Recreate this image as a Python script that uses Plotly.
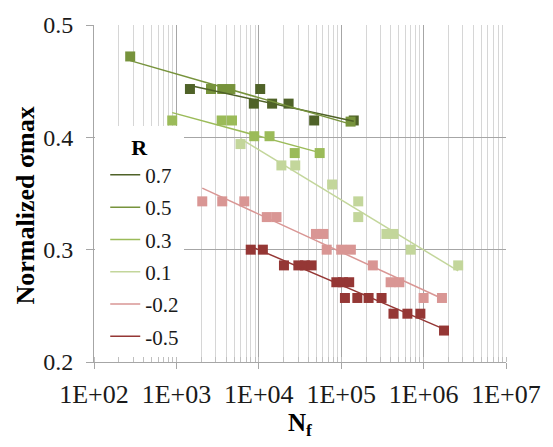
import numpy as np
import plotly.graph_objects as go

# ---- data ----
series_names = ["0.7", "0.5", "0.3", "0.1", "-0.2", "-0.5"]
colors = ["#4F6228", "#77933C", "#9BBB59", "#C3D69B", "#D99694", "#953735"]

n_r07 = [1460, 10400, 8700, 14500, 23000, 47000, 142000]
s_r07 = [0.443, 0.443, 0.430, 0.430, 0.430, 0.415, 0.415]

n_r05 = [275, 2630, 3600, 4520, 130000]
s_r05 = [0.472, 0.443, 0.443, 0.443, 0.414]

n_r03 = [890, 3540, 4730, 8800, 13500, 27300, 54800]
s_r03 = [0.415, 0.415, 0.415, 0.401, 0.401, 0.386, 0.386]

n_r01 = [6000, 18800, 27700, 77600, 161000, 161000, 354000, 431000, 697000, 2630000]
s_r01 = [0.394, 0.375, 0.375, 0.358, 0.343, 0.329, 0.314, 0.314, 0.300, 0.286]

n_rm02 = [2060, 3600, 6670, 12500, 16400, 49400, 60800, 66700, 100000, 131000,
          242000, 398000, 508000, 1000000, 1670000]
s_rm02 = [0.343, 0.343, 0.343, 0.329, 0.329, 0.314, 0.314, 0.300, 0.300, 0.300,
          0.286, 0.271, 0.271, 0.257, 0.257]

n_rm05 = [7980, 11200, 20200, 30200, 36300, 43700, 87300, 105000, 125000, 111000,
          157000, 215000, 309000, 431000, 636000, 914000, 1770000]
s_rm05 = [0.300, 0.300, 0.286, 0.286, 0.286, 0.286, 0.271, 0.271, 0.271, 0.257,
          0.257, 0.257, 0.257, 0.243, 0.243, 0.243, 0.228]

x_tickvals = [1e2, 1e3, 1e4, 1e5, 1e6, 1e7]
x_ticktext = ["1E+02", "1E+03", "1E+04", "1E+05", "1E+06", "1E+07"]
y_tickvals = [0.2, 0.3, 0.4, 0.5]
y_ticktext = ["0.2", "0.3", "0.4", "0.5"]

all_n = [n_r07, n_r05, n_r03, n_r01, n_rm02, n_rm05]
all_s = [s_r07, s_r05, s_r03, s_r01, s_rm02, s_rm05]

FONT = "Liberation Serif"
TXT = "#1a1a1a"
fig = go.Figure()

# markers
for name, col, n, s in zip(series_names, colors, all_n, all_s):
    fig.add_trace(go.Scatter(x=n, y=s, mode="markers", showlegend=False,
                             marker=dict(symbol="square", size=10, color=col,
                                         line=dict(width=0)),
                             hoverinfo="skip"))

# logarithmic trendlines (y = a*log(x) + b), shown in legend
for i, (name, col, n, s) in enumerate(zip(series_names, colors, all_n, all_s)):
    lx = np.log10(np.array(n, dtype=float))
    a, b = np.polyfit(lx, np.array(s), 1)
    xs = np.array([lx.min(), lx.max()])
    fig.add_trace(go.Scatter(x=10 ** xs, y=a * xs + b, mode="lines", name=name,
                             legendgroup=f"g{i}",
                             line=dict(color=col, width=1.5)))

fig.update_layout(
    width=553, height=447,
    margin=dict(l=94, r=34, t=20, b=85),
    paper_bgcolor="white", plot_bgcolor="white",
    font=dict(family=FONT, size=21, color=TXT),
    legend=dict(
        x=0.003, y=0.70, xanchor="left", yanchor="top",
        bgcolor="white", borderwidth=0,
        tracegroupgap=2, indentation=10,
        title=dict(text="<b>R</b>", side="top center", font=dict(size=22, color="#000")),
        font=dict(size=21, color=TXT),
        itemwidth=30,
    ),
    annotations=[dict(
        text="<b>Normalized σmax</b>", textangle=-90,
        xref="paper", yref="paper", x=-0.167, y=0.465,
        xanchor="center", yanchor="middle", showarrow=False,
        font=dict(size=26, color="#000", family=FONT),
    )],
)

fig.update_xaxes(
    type="log", range=[2, 7],
    tickvals=x_tickvals, ticktext=x_ticktext,
    showgrid=True, gridcolor="#A6A6A6", gridwidth=1,
    showline=True, linecolor="#A6A6A6", linewidth=1,
    ticks="outside", ticklen=6, tickcolor="#A6A6A6",
    minor=dict(dtick="D1", showgrid=True, gridcolor="#D6D6D6", gridwidth=1,
               ticks="inside", ticklen=5, tickcolor="#BFBFBF"),
    tickfont=dict(size=26, color=TXT),
    ticklabelstandoff=3,
    ticklabeloverflow="allow",
    title=dict(text="<b>N<sub>f</sub></b>", font=dict(size=25, color="#000"), standoff=2),
    zeroline=False,
)
fig.update_yaxes(
    range=[0.2, 0.5],
    tickvals=y_tickvals, ticktext=y_ticktext,
    showgrid=True, gridcolor="#A6A6A6", gridwidth=1,
    showline=True, linecolor="#A6A6A6", linewidth=1,
    ticks="outside", ticklen=7, tickcolor="#A6A6A6",
    tickfont=dict(size=24, color=TXT),
    ticklabelstandoff=8,
    zeroline=False,
)

fig.write_html("out.html")
